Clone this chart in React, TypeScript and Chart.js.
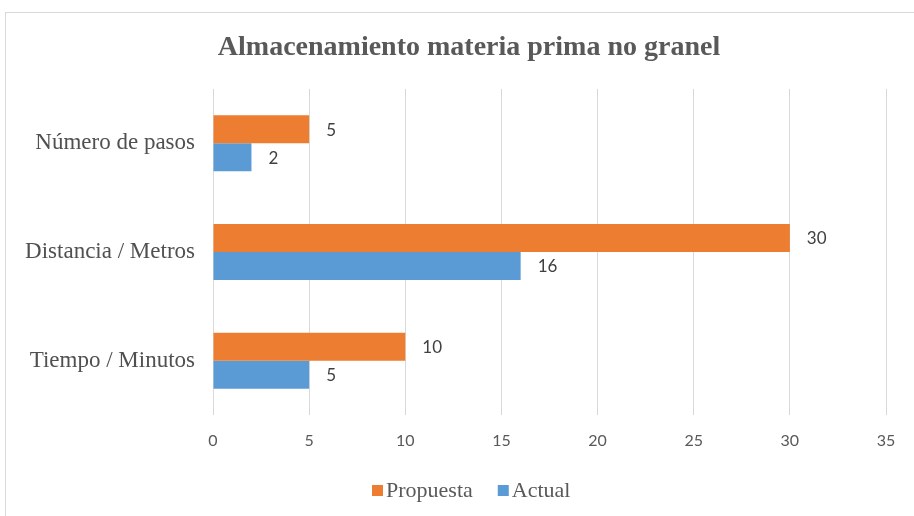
import React, { useEffect, useRef } from "react";
import { Chart, registerables } from "chart.js";

Chart.register(...registerables);

const chartTitle = "Almacenamiento materia prima no granel";
const categories = ["Número de pasos", "Distancia / Metros", "Tiempo / Minutos"];
const seriesNames = ["Propuesta", "Actual"];
const propuesta = [5, 30, 10];
const actual = [2, 16, 5];
const xMin = 0;
const xMax = 35;
const xStep = 5;

const ORANGE = "#ED7D31";
const BLUE = "#5B9BD5";

const dataLabelPlugin = {
  id: "dataLabels",
  afterDatasetsDraw(chart: any) {
    const ctx = chart.ctx;
    ctx.save();
    ctx.font = "17px Lato";
    ctx.fillStyle = "#404040";
    ctx.textAlign = "left";
    ctx.textBaseline = "middle";
    chart.data.datasets.forEach((ds: any, di: number) => {
      const meta = chart.getDatasetMeta(di);
      meta.data.forEach((bar: any, i: number) => {
        ctx.fillText(String(ds.data[i]), bar.x + 17, bar.y + 1);
      });
    });
    ctx.restore();
  },
};

const titleLegendPlugin = {
  id: "titleLegend",
  afterDraw(chart: any) {
    const ctx = chart.ctx;
    ctx.save();
    // title
    ctx.font = "bold 28px 'Liberation Serif'";
    ctx.fillStyle = "#595959";
    ctx.textAlign = "center";
    ctx.textBaseline = "middle";
    ctx.fillText(chartTitle, 469, 48);
    // legend
    ctx.font = "22px 'Liberation Serif'";
    ctx.textAlign = "left";
    const colors = chart.data.datasets.map((d: any) => d.backgroundColor);
    const labels = chart.data.datasets.map((d: any) => d.label);
    let x = 372;
    const y = 490;
    labels.forEach((lab: string, i: number) => {
      ctx.fillStyle = colors[i];
      ctx.fillRect(x, y - 5, 11, 11);
      ctx.fillStyle = "#595959";
      ctx.fillText(lab, x + 14, y + 1);
      x += 14 + ctx.measureText(lab).width + 25;
    });
    ctx.restore();
  },
};

export default function App() {
  const ref = useRef<HTMLCanvasElement | null>(null);
  useEffect(() => {
    if (!ref.current) return;
    const chart = new Chart(ref.current, {
      type: "bar",
      data: {
        labels: categories,
        datasets: [
          { label: seriesNames[0], data: propuesta, backgroundColor: ORANGE },
          { label: seriesNames[1], data: actual, backgroundColor: BLUE },
        ],
      },
      options: {
        indexAxis: "y",
        animation: false,
        responsive: false,
        layout: { padding: { top: 89, right: 28, bottom: 51, left: 0 } },
        datasets: { bar: { categoryPercentage: 0.515, barPercentage: 1 } },
        plugins: {
          legend: { display: false },
          title: { display: false },
          tooltip: { enabled: false },
        },
        scales: {
          x: {
            min: xMin,
            max: xMax,
            ticks: {
              stepSize: xStep,
              font: { family: "Lato", size: 16 },
              color: "#595959",
              padding: 16,
            },
            grid: { color: "#d9d9d9", drawTicks: false, lineWidth: 1 },
            border: { display: false },
            afterFit(s: any) {
              s.height = 50;
            },
          },
          y: {
            ticks: {
              font: { family: "Liberation Serif", size: 23 },
              color: "#505050",
              padding: 18,
            },
            grid: { display: false, drawTicks: false },
            border: { display: false },
            afterFit(s: any) {
              s.width = 213;
            },
          },
        },
      } as any,
      plugins: [dataLabelPlugin, titleLegendPlugin],
    });
    return () => chart.destroy();
  }, []);
  return (
    <div style={{ position: "fixed", left: 0, top: 0, width: 914, height: 516, background: "#fff", overflow: "hidden" }}>
      <div
        style={{
          position: "absolute",
          left: 5,
          top: 12,
          width: 930,
          height: 530,
          border: "1px solid #d9d9d9",
          boxSizing: "border-box",
        }}
      />
      <canvas
        ref={ref}
        width={914}
        height={516}
        style={{ position: "absolute", left: 0, top: 0, width: 914, height: 516 }}
      />
    </div>
  );
}
